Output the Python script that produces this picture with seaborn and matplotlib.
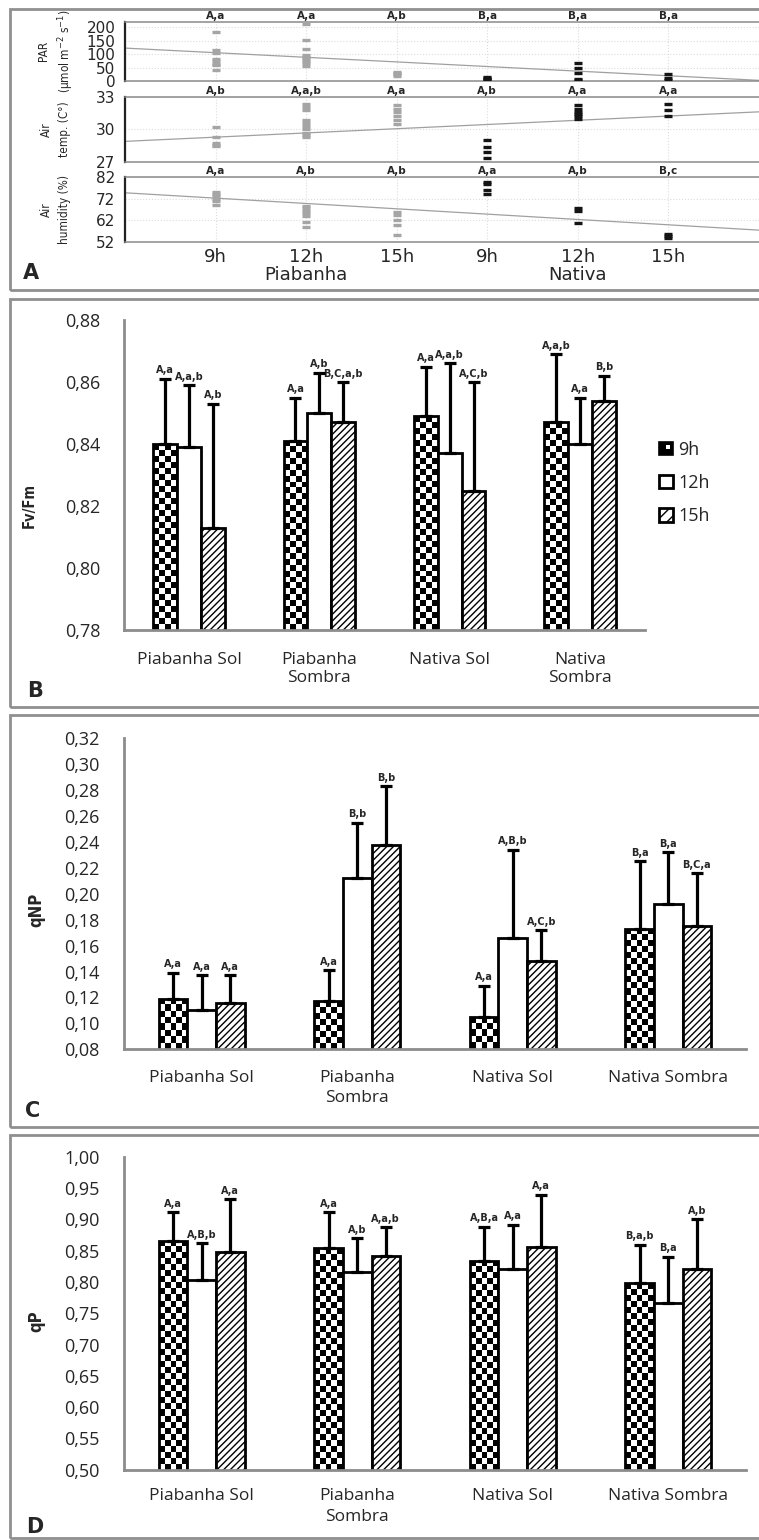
import numpy as np
import pandas as pd
import matplotlib
matplotlib.use("Agg")
import matplotlib.pyplot as plt
import seaborn as sns
from matplotlib.patches import Rectangle, Patch
from matplotlib.legend_handler import HandlerBase
from matplotlib.ticker import FixedLocator

sns.set_style("white")
plt.rcParams["font.family"] = ["DejaVu Sans"]
plt.rcParams["hatch.linewidth"] = 1.0

W, H = 759, 1540
BARFONT = ["Open Sans", "DejaVu Sans"]

# ---------------- data: microclimate (panel A) ----------------
hours = ["9h", "12h", "15h"]
sites = ["Piabanha", "Nativa"]

# one list per site/hour slot: Piabanha 9h, 12h, 15h, Nativa 9h, 12h, 15h
par_readings = [
    [181, 115, 105, 80, 75, 62, 58, 42],
    [213, 152, 118, 96, 90, 82, 76, 65, 55],
    [35, 30, 25, 20],
    [15, 10, 6, 3],
    [65, 50, 30, 8, 4],
    [25, 12, 4],
]
temp_readings = [
    [30.2, 29.3, 28.8, 28.6, 28.5],
    [32.3, 32.1, 31.8, 30.9, 30.6, 30.3, 30.0, 29.7, 29.5, 29.3],
    [32.2, 31.9, 31.6, 31.2, 30.9, 30.5],
    [29.0, 28.4, 27.9, 27.4],
    [32.2, 31.9, 31.6, 31.4, 31.2, 31.0],
    [32.3, 31.8, 31.2],
]
hum_readings = [
    [75, 74, 73, 72, 71, 69],
    [68.5, 67.5, 66.5, 65.5, 64, 61.5, 59],
    [65.8, 64.5, 62, 59.8, 55.2],
    [79.7, 78.5, 76, 74],
    [67.7, 66.5, 61],
    [56, 55, 54],
]
# linear trend: (value at Piabanha 9h, change per slot)
par_trend = [105.0, -17.1]
temp_trend = [29.3, 0.386]
hum_trend = [72.2, -2.44]

par_letters = ["A,a", "A,a", "A,b", "B,a", "B,a", "B,a"]
temp_letters = ["A,b", "A,a,b", "A,a", "A,b", "A,a", "A,a"]
hum_letters = ["A,a", "A,b", "A,b", "A,a", "A,b", "B,c"]

# ---------------- data: chlorophyll fluorescence (panels B-D) ----------------
treatments = ["Piabanha Sol", "Piabanha Sombra", "Nativa Sol", "Nativa Sombra"]

fvfm_mean = {"9h": [0.840, 0.841, 0.849, 0.847],
             "12h": [0.839, 0.850, 0.837, 0.840],
             "15h": [0.813, 0.847, 0.825, 0.854]}
fvfm_sd = {"9h": [0.021, 0.014, 0.016, 0.022],
           "12h": [0.020, 0.013, 0.029, 0.015],
           "15h": [0.040, 0.013, 0.035, 0.008]}
fvfm_letters = {"9h": ["A,a", "A,a", "A,a", "A,a,b"],
                "12h": ["A,a,b", "A,b", "A,a,b", "A,a"],
                "15h": ["A,b", "B,C,a,b", "A,C,b", "B,b"]}

qnp_mean = {"9h": [0.119, 0.117, 0.105, 0.173],
            "12h": [0.110, 0.212, 0.166, 0.192],
            "15h": [0.116, 0.238, 0.148, 0.175]}
qnp_sd = {"9h": [0.020, 0.024, 0.024, 0.052],
          "12h": [0.027, 0.043, 0.068, 0.040],
          "15h": [0.021, 0.045, 0.024, 0.041]}
qnp_letters = {"9h": ["A,a", "A,a", "A,a", "B,a"],
               "12h": ["A,a", "B,b", "A,B,b", "B,a"],
               "15h": ["A,a", "B,b", "A,C,b", "B,C,a"]}

qp_mean = {"9h": [0.866, 0.854, 0.834, 0.798],
           "12h": [0.803, 0.816, 0.820, 0.766],
           "15h": [0.847, 0.841, 0.855, 0.820]}
qp_sd = {"9h": [0.045, 0.057, 0.054, 0.061],
         "12h": [0.059, 0.054, 0.071, 0.074],
         "15h": [0.085, 0.046, 0.084, 0.080]}
qp_letters = {"9h": ["A,a", "A,a", "A,B,a", "B,a,b"],
              "12h": ["A,B,b", "A,b", "A,a", "B,a"],
              "15h": ["A,a", "A,a,b", "A,a", "A,b"]}

labels_b = ["Piabanha Sol", "Piabanha\nSombra", "Nativa Sol", "Nativa\nSombra"]
labels_cd = ["Piabanha Sol", "Piabanha\nSombra", "Nativa Sol", "Nativa Sombra"]

GRAY = "#8c8c8c"

fig = plt.figure(figsize=(W / 100, H / 100), dpi=100)


def px_axes(left, top, right, bottom):
    return fig.add_axes([left / W, 1 - bottom / H, (right - left) / W, (bottom - top) / H])


def panel_box(top, bottom):
    fig.add_artist(Rectangle((10 / W, 1 - bottom / H), 1.2, (bottom - top) / H,
                             transform=fig.transFigure, fill=False,
                             edgecolor="#8f8f8f", linewidth=2))


def panel_letter(x, y, s):
    fig.text(x / W, 1 - y / H, s, fontsize=15, fontweight="bold",
             ha="center", va="center")


# ---------------- panel A ----------------
def env_panel(ax, readings, trend, letters, ylim, yticks, ylabel, label_x, show_x):
    rows = []
    for slot, vals in enumerate(readings):
        for v in vals:
            rows.append({"slot": slot, "site": sites[slot // 3], "value": v})
    df = pd.DataFrame(rows)
    ax.axline((0, trend[0]), slope=trend[1], color="#a0a0a0", lw=0.9, zorder=2)
    sns.scatterplot(data=df, x="slot", y="value", hue="site",
                    palette={"Piabanha": "#a5a5a5", "Nativa": "#141414"},
                    marker="_", s=34, linewidth=2.4, legend=False, ax=ax, zorder=3)
    ax.set_xlim(-1, 6)
    ax.set_ylim(*ylim)
    ax.set_yticks(yticks)
    ax.set_xticks(range(6))
    ax.grid(True, color="#dcdcdc", linestyle=":", linewidth=0.8)
    for side in ("top", "bottom"):
        ax.spines[side].set_color("#8a8a8a")
        ax.spines[side].set_linewidth(1.1)
    ax.spines["left"].set_color("#222222")
    ax.spines["left"].set_linewidth(1.6)
    ax.spines["right"].set_visible(False)
    ax.tick_params(axis="y", labelsize=11, direction="in", length=3,
                   color="#333333", pad=7)
    if show_x:
        ax.set_xticklabels(hours + hours, fontsize=13)
        ax.tick_params(axis="x", length=0, pad=4)
    else:
        ax.tick_params(axis="x", length=0, labelbottom=False)
    ax.set_xlabel("")
    ax.set_ylabel(ylabel, fontsize=8.5, fontstretch="condensed", linespacing=1.5)
    ax.yaxis.set_label_coords(label_x, 0.5)
    for i, t in enumerate(letters):
        ax.annotate(t, xy=(i, 1), xycoords=ax.get_xaxis_transform(),
                    xytext=(0, 0.5), textcoords="offset points",
                    ha="center", va="bottom", fontsize=7.5, fontweight="bold")


panel_box(9, 290)
ax_par = px_axes(125, 21.7, 759, 81)
ax_tmp = px_axes(125, 96.7, 759, 162.3)
ax_hum = px_axes(125, 176.7, 759, 242.3)
env_panel(ax_par, par_readings, par_trend, par_letters, (0, 220),
          [0, 50, 100, 150, 200], "PAR\n(\u03bcmol m$^{-2}$ s$^{-1}$)", -0.077, False)
env_panel(ax_tmp, temp_readings, temp_trend, temp_letters, (27, 33),
          [27, 30, 33], "Air\ntemp. (C\u00b0)", -0.085, False)
env_panel(ax_hum, hum_readings, hum_trend, hum_letters, (52, 82),
          [52, 62, 72, 82], "Air\nhumidity (%)", -0.085, True)
for pos, name in zip([1, 4], sites):
    ax_hum.text(pos, -0.50, name, transform=ax_hum.get_xaxis_transform(),
                ha="center", va="center", fontsize=13)
panel_letter(31, 273, "A")


# ---------------- panels B-D ----------------
def checker_fill(ax, bar, cell_px=6.0):
    y0 = ax.get_ylim()[0]
    x0, x1 = bar.get_x(), bar.get_x() + bar.get_width()
    y1 = bar.get_height()
    (px0, py0), (px1, py1) = ax.transData.transform([(x0, y0), (x1, y1)])
    ncol = max(1, int(round((px1 - px0) / cell_px)))
    nrow = max(1, int(round((py1 - py0) / cell_px)))
    grid = (np.add.outer(np.arange(nrow), np.arange(ncol)) + 1) % 2
    im = ax.imshow(grid, cmap="binary", vmin=0, vmax=1, extent=(x0, x1, y0, y1),
                   origin="upper", aspect="auto", interpolation="nearest",
                   zorder=bar.get_zorder() - 0.1)
    im.set_clip_path(bar)
    bar.set_facecolor("none")


def bar_panel(ax, means, sds, letters, ylim, yticks, ticklabels, ylab, ylab_size,
              ylab_xy, xpad, xspacing, full_yticks):
    df = pd.DataFrame([{"treatment": t, "hour": h, "mean": means[h][k]}
                       for h in hours for k, t in enumerate(treatments)])
    sns.barplot(data=df, x="treatment", y="mean", hue="hour", order=treatments,
                hue_order=hours, palette={h: "white" for h in hours},
                edgecolor="black", linewidth=2.0, width=0.55, gap=0,
                errorbar=None, legend=False, ax=ax)
    ax.set_xlim(-0.5, 3.5)
    ax.set_ylim(*ylim)
    bars = sorted([p for p in ax.patches if isinstance(p, Rectangle)],
                  key=lambda p: p.get_x())
    xs, tops, errs = [], [], []
    for idx, bar in enumerate(bars):
        k, h = idx // 3, hours[idx % 3]
        cx = bar.get_x() + bar.get_width() / 2
        xs.append(cx)
        tops.append(bar.get_height())
        errs.append(sds[h][k])
        if h == "15h":
            bar.set_hatch("/////")
        ax.annotate(letters[h][k], xy=(cx, bar.get_height() + sds[h][k]),
                    xytext=(0, 2.5), textcoords="offset points", ha="center",
                    va="bottom", fontsize=7, fontweight="bold")
    ax.errorbar(xs, tops, yerr=[np.zeros(len(errs)), errs], fmt="none",
                ecolor="black", elinewidth=2.3, capsize=4.5, capthick=2.3, zorder=4)
    for idx, bar in enumerate(bars):
        if idx % 3 == 0:
            checker_fill(ax, bar)

    ax.set_yticks(yticks)
    ax.set_yticklabels([f"{v:.2f}".replace(".", ",") for v in yticks],
                       fontsize=13, family=BARFONT)
    if full_yticks:
        ax.tick_params(axis="y", which="major", direction="out", length=6.5,
                       width=2, color=GRAY, pad=11)
    else:
        ax.tick_params(axis="y", which="major", length=0, pad=17)
        ax.yaxis.set_minor_locator(FixedLocator([ylim[0], ylim[1]]))
        ax.tick_params(axis="y", which="minor", direction="out", length=6.5,
                       width=2, color=GRAY)
    ax.set_xticks(range(4))
    ax.set_xticklabels(ticklabels, fontsize=12.5, family=BARFONT,
                       linespacing=xspacing)
    ax.tick_params(axis="x", which="major", length=0, pad=xpad)
    ax.xaxis.set_minor_locator(FixedLocator(np.arange(-0.5, 4.0, 1.0)))
    ax.tick_params(axis="x", which="minor", direction="out", length=4,
                   width=2, color=GRAY)
    for side in ("top", "right"):
        ax.spines[side].set_visible(False)
    for side in ("left", "bottom"):
        ax.spines[side].set_color(GRAY)
        ax.spines[side].set_linewidth(2)
    ax.set_xlabel("")
    ax.set_ylabel(ylab, fontsize=ylab_size, fontweight="bold",
                  fontstretch="condensed")
    ax.yaxis.set_label_coords(*ylab_xy)


class CheckerIcon(HandlerBase):
    def create_artists(self, legend, orig_handle, xdescent, ydescent,
                       width, height, fontsize, trans):
        x0, y0 = -xdescent, -ydescent
        body = Rectangle((x0, y0), width, height, facecolor="black",
                         edgecolor="black", linewidth=1.2, transform=trans)
        spot = Rectangle((x0 + width * 0.5, y0 + height * 0.45), width * 0.32,
                         height * 0.32, facecolor="white", edgecolor="none",
                         transform=trans)
        return [body, spot]


# panel B
panel_box(299, 707)
ax_b = px_axes(124, 320, 645, 630)
bar_panel(ax_b, fvfm_mean, fvfm_sd, fvfm_letters, (0.78, 0.88),
          [0.78, 0.80, 0.82, 0.84, 0.86, 0.88], labels_b, "Fv/Fm", 10.5,
          (-0.168, 0.40), 16, 1.15, False)
checker_handle = Patch(facecolor="black", edgecolor="black")
legend_handles = [checker_handle,
                  Patch(facecolor="white", edgecolor="black", linewidth=2),
                  Patch(facecolor="white", edgecolor="black", hatch="///", linewidth=2)]
fig.legend(legend_handles, hours, handler_map={checker_handle: CheckerIcon()},
           loc="center left", bbox_to_anchor=(659 / W, 1 - 483 / H),
           frameon=False, prop={"family": BARFONT, "size": 13},
           handlelength=0.75, handleheight=0.75, handletextpad=0.3,
           labelspacing=0.85, borderpad=0, borderaxespad=0)
panel_letter(35, 691, "B")

# panel C
panel_box(715, 1127)
ax_c = px_axes(124, 738.3, 746, 1049.3)
bar_panel(ax_c, qnp_mean, qnp_sd, qnp_letters, (0.08, 0.32),
          list(np.round(np.arange(0.08, 0.321, 0.02), 2)), labels_cd, "qNP", 12,
          (-0.127, 0.448), 15, 1.35, True)
panel_letter(33, 1111, "C")

# panel D
panel_box(1135, 1538)
ax_d = px_axes(124, 1156.7, 746, 1469.7)
bar_panel(ax_d, qp_mean, qp_sd, qp_letters, (0.50, 1.00),
          list(np.round(np.arange(0.50, 1.001, 0.05), 2)), labels_cd, "qP", 12,
          (-0.127, 0.475), 13, 1.4, True)
panel_letter(35, 1527, "D")

fig.savefig("out.png", dpi=100)
